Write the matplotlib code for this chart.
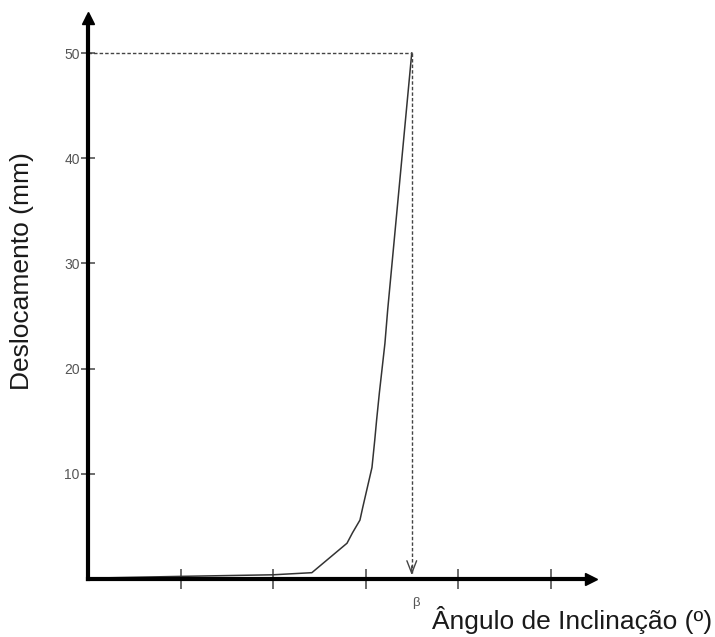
import matplotlib
matplotlib.use("Agg")
import matplotlib.pyplot as plt

# curve (angle in tick units, displacement in mm)
angle = [0.0, 0.13, 1.0, 2.0, 2.42, 2.61, 2.80, 2.86, 2.94, 2.97, 3.02, 3.07, 3.10,
         3.12, 3.15, 3.21, 3.24, 3.50]
displacement = [0.0, 0.1, 0.25, 0.4, 0.6, 2.0, 3.4, 4.4, 5.6, 6.8, 8.7, 10.6, 13.2,
                15.1, 17.7, 22.4, 25.6, 50.0]

x_ticks = [1, 2, 3, 4, 5]
y_ticks = [10, 20, 30, 40, 50]
beta = 3.5
d_max = 50

plt.rcParams['font.family'] = ['Liberation Sans', 'DejaVu Sans']

fig = plt.figure(figsize=(7.15, 6.37), dpi=100)
W, H = 715, 637
x0, y0 = 88, 579          # axes origin in pixels
x1, y1 = 591, 18          # axes far ends in pixels
ax = fig.add_axes([x0 / W, (H - y0) / H, (x1 - x0) / W, (y0 - y1) / H])

ax.set_xlim(0, (x1 - x0) / 92.5)
ax.set_ylim(0, (y0 - y1) / 10.52)

for s in ['top', 'right']:
    ax.spines[s].set_visible(False)
for s in ['left', 'bottom']:
    ax.spines[s].set_linewidth(3)
    ax.spines[s].set_color('black')

# arrow heads on the axes
ax.plot(1, 0, '>', color='black', ms=9, transform=ax.transAxes, clip_on=False)
ax.plot(0, 1, '^', color='black', ms=9, transform=ax.transAxes, clip_on=False)

ax.set_xticks(x_ticks)
ax.set_xticklabels([])
ax.tick_params(axis='x', direction='inout', length=15, width=1.1, color='#444')
ax.set_yticks(y_ticks)
ax.set_yticklabels([str(v) for v in y_ticks], color='#555', fontsize=10)
ax.tick_params(axis='y', direction='inout', length=10, width=1.1, color='#444', pad=1)

# curve
ax.plot(angle, displacement, color='#333', lw=1.1, solid_joinstyle='round')

# dashed guide lines
ax.plot([0, beta], [d_max, d_max], color='#444', lw=1, linestyle=(0, (2.5, 1.5)))
ax.plot([beta, beta], [d_max, 0.6], color='#444', lw=1, linestyle=(0, (2.5, 1.5)))
ax.annotate('', xy=(beta, 0.1), xytext=(beta, 1.5),
            arrowprops=dict(arrowstyle='->,head_length=0.9,head_width=0.35',
                            color='#444', lw=1))

ax.annotate('β', xy=(beta, 0), xytext=(3, -17), textcoords='offset points',
            ha='center', va='center', fontsize=9.5, color='#555')

fig.text(712 / W, 1 - 629 / H, 'Ângulo de Inclinação (º)', ha='right', va='baseline',
         fontsize=19, color='#1a1a1a')
fig.text(22 / W, 1 - 271 / H, 'Deslocamento (mm)', rotation=90, ha='center', va='center',
         fontsize=19, color='#1a1a1a')

fig.savefig('out.png', dpi=100)
